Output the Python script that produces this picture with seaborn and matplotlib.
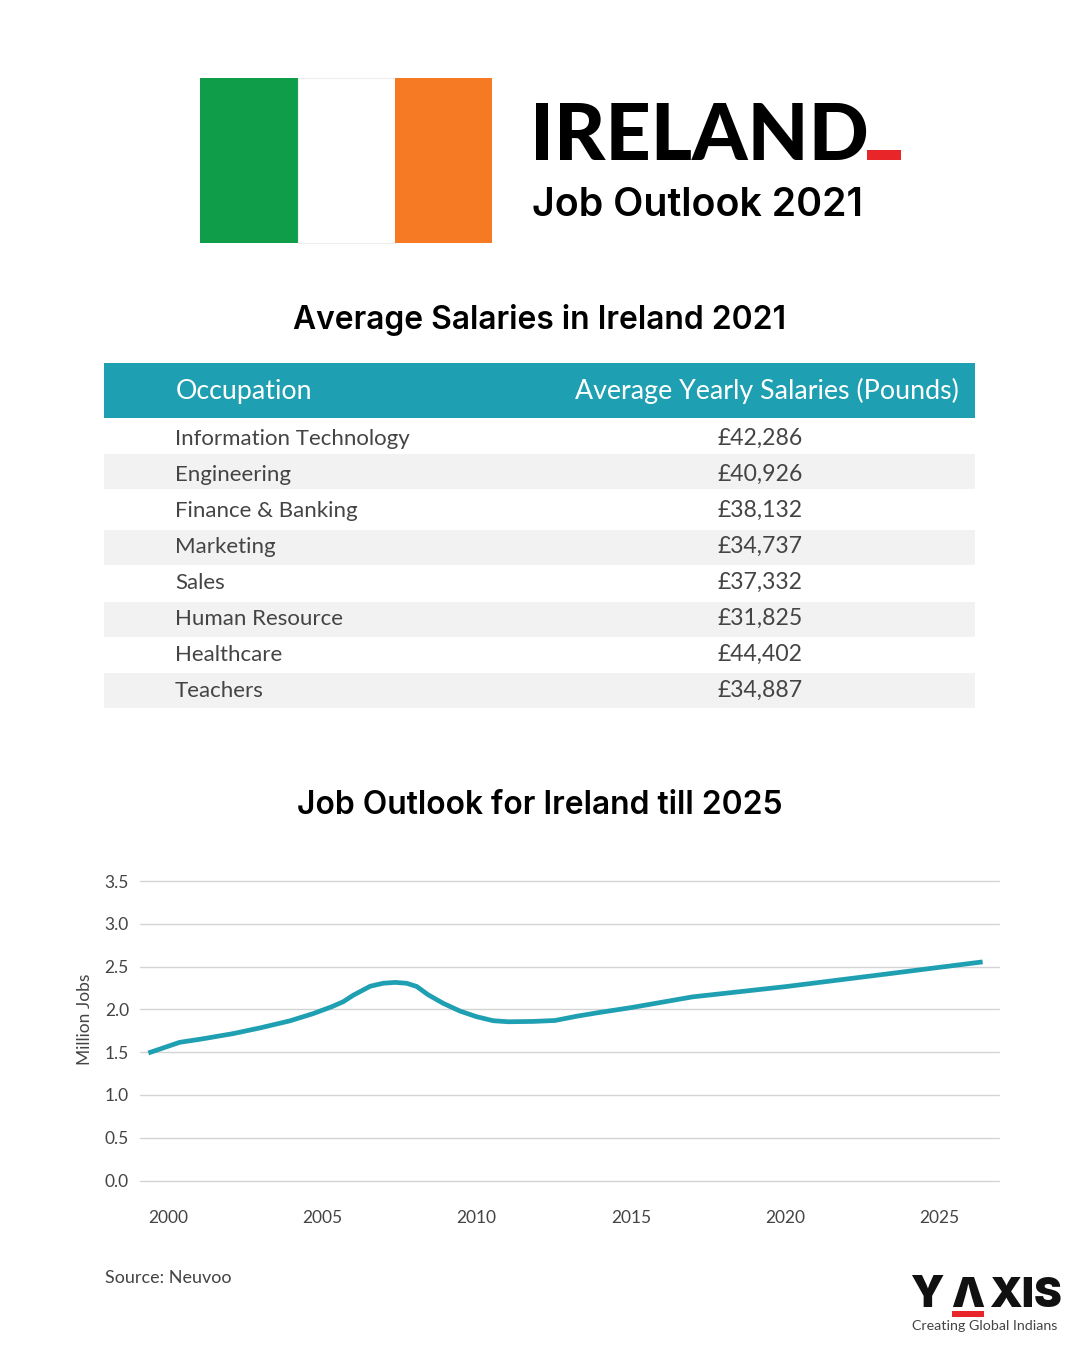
import matplotlib
matplotlib.use("Agg")
import matplotlib.pyplot as plt
import pandas as pd
import seaborn as sns
from matplotlib.patches import Rectangle

TEAL = "#1f9fb2"
BAND = "#f2f2f3"
RED = "#e8262a"
TEXT = "#444444"
HEAD_FONT = "Inter"
BODY_FONT = "Lato"

OCCUPATIONS = ["Information Technology", "Engineering", "Finance & Banking", "Marketing",
               "Sales", "Human Resource", "Healthcare", "Teachers"]
SALARIES = ["£42,286", "£40,926", "£38,132", "£34,737", "£37,332", "£31,825", "£44,402", "£34,887"]
TABLE_HEADERS = ["Occupation", "Average Yearly Salaries (Pounds)"]

YEARS = [1999.36, 2000.37, 2001.14, 2002.1, 2002.98, 2003.95, 2004.7, 2005.3, 2005.68, 2006.0,
         2006.55, 2006.97, 2007.36, 2007.73, 2008.06, 2008.43, 2008.92, 2009.46, 2010.0,
         2010.54, 2011.03, 2011.84, 2012.54, 2013.25, 2014.0, 2015.0, 2017.0, 2020.0,
         2023.0, 2026.4]
JOBS = [1.49, 1.614, 1.657, 1.716, 1.783, 1.866, 1.95, 2.03, 2.09, 2.165,
        2.27, 2.305, 2.315, 2.305, 2.267, 2.17, 2.07, 1.98, 1.914,
        1.867, 1.855, 1.859, 1.87, 1.92, 1.965, 2.02, 2.146, 2.265,
        2.40, 2.555]
X_TICKS = [2000, 2005, 2010, 2015, 2020, 2025]
Y_TICKS = [0.0, 0.5, 1.0, 1.5, 2.0, 2.5, 3.0, 3.5]

sns.set_theme(style="white")
fig = plt.figure(figsize=(10.8, 13.5), dpi=100, facecolor="white")

# page layer in pixel coordinates, for header, table and logo
page = fig.add_axes([0, 0, 1, 1])
page.set_xlim(0, 1080)
page.set_ylim(1350, 0)
page.axis("off")

# flag
page.add_patch(Rectangle((200, 78), 97.5, 165, color="#0f9d4a", lw=0))
page.add_patch(Rectangle((297.5, 78), 97.5, 165, fc="white", ec="#eeeeee", lw=0.8))
page.add_patch(Rectangle((395, 78), 97, 165, color="#f57a23", lw=0))

# titles
page.text(530, 160, "IRELAND", fontsize=57, fontweight="black", family=BODY_FONT, color="black", va="baseline")
page.add_patch(Rectangle((867, 150), 34, 10, color=RED, lw=0))
page.text(532, 216, "Job Outlook 2021", fontsize=28.3, fontweight="semibold", family=HEAD_FONT, color="black", va="baseline")
page.text(540, 320, "Average Salaries in Ireland 2021", fontsize=22.9, fontweight="semibold", family=HEAD_FONT,
          color="black", ha="center", va="center")
page.text(540, 806, "Job Outlook for Ireland till 2025", fontsize=22.9, fontweight="semibold", family=HEAD_FONT,
          color="black", ha="center", va="center")

# table
page.add_patch(Rectangle((104, 363), 871, 55, color=TEAL, lw=0))
page.text(176, 391, TABLE_HEADERS[0], fontsize=19.3, family=BODY_FONT, color="white", va="center")
page.text(959, 391, TABLE_HEADERS[1], fontsize=19.3, family=BODY_FONT, color="white", va="center", ha="right")
for band_top in (454, 530, 602, 673):
    page.add_patch(Rectangle((104, band_top), 871, 35, color=BAND, lw=0))
for i, (occupation, salary) in enumerate(zip(OCCUPATIONS, SALARIES)):
    top = 418 + i * 36
    page.text(175, top + 21, occupation, fontsize=16, family=BODY_FONT, color=TEXT, va="center")
    page.text(760, top + 20, salary, fontsize=16.6, family=BODY_FONT, color=TEXT, va="center", ha="center")

# line chart
ax = fig.add_axes([140 / 1080, 1 - 1180.5 / 1350, 859 / 1080, 299.5 / 1350], facecolor="none")
df = pd.DataFrame({"year": YEARS, "jobs": JOBS})
sns.lineplot(data=df, x="year", y="jobs", color=TEAL, linewidth=3.4, ax=ax, solid_capstyle="butt", zorder=3)
ax.set_xlim(1999.09, 2026.93)
ax.set_ylim(0, 3.5)
ax.set_xticks(X_TICKS)
ax.set_yticks(Y_TICKS)
ax.set_yticklabels([f"{t:.1f}" for t in Y_TICKS])
ax.grid(axis="y", color="#d4d4d4", linewidth=1)
ax.grid(axis="x", visible=False)
for gridline in ax.get_ygridlines():
    gridline.set_clip_on(False)
ax.tick_params(axis="both", length=0, labelsize=12.5, labelcolor=TEXT)
ax.tick_params(axis="x", pad=21)
ax.tick_params(axis="y", pad=8)
for label in ax.get_xticklabels() + ax.get_yticklabels():
    label.set_family(BODY_FONT)
ax.set_xlabel("")
ax.set_ylabel("")
sns.despine(ax=ax, left=True, bottom=True, top=True, right=True)
page.text(85, 1019, "Million Jobs", fontsize=12.5, family=BODY_FONT, color=TEXT,
          rotation=90, ha="center", va="center")

# source and logo
page.text(105, 1278, "Source: Neuvoo", fontsize=13, family=BODY_FONT, color=TEXT, va="center")
page.text(910, 1307, "Y", fontsize=31, family=HEAD_FONT, fontweight="black", color="#111111", va="baseline")
page.text(951, 1307, "\u039b", fontsize=30, family=HEAD_FONT, fontweight="black", color="#111111", va="baseline")
page.text(989, 1307, "XIS", fontsize=30, family=HEAD_FONT, fontweight="black", color="#111111", va="baseline")
page.add_patch(Rectangle((952, 1311), 32, 6, color=RED, lw=0))
page.text(912, 1326, "Creating Global Indians", fontsize=10.3, family=BODY_FONT, color=TEXT, va="center")

fig.savefig("out.png", dpi=100, facecolor="white")
